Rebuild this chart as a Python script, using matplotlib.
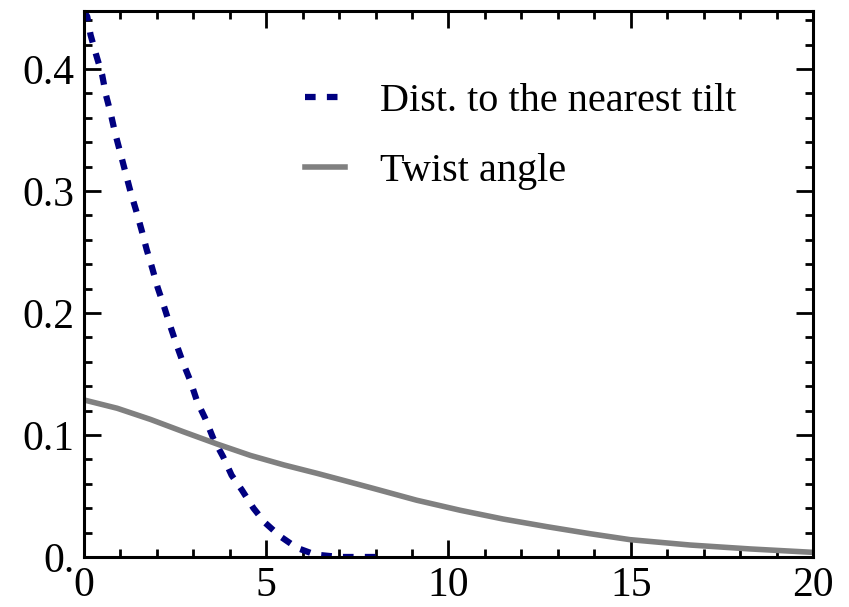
import numpy as np
import matplotlib
matplotlib.use("Agg")
import matplotlib.pyplot as plt
from matplotlib.ticker import MultipleLocator, FixedLocator, FuncFormatter

# datos
x_tilt = [0.0, 0.09, 0.18, 0.34, 0.5, 0.6, 0.73, 0.85, 1.0, 1.14, 1.28, 1.44,
          1.58, 1.72, 1.87, 2.02, 2.2, 2.36, 2.54, 2.72, 2.91, 3.11, 3.32, 3.55,
          3.82, 4.05, 4.33, 4.65, 4.97, 5.38, 5.84, 6.34, 7.0, 7.6, 8.26]
y_tilt = [0.447, 0.443, 0.428, 0.411, 0.395, 0.379, 0.364, 0.348, 0.331, 0.315,
          0.299, 0.283, 0.268, 0.252, 0.237, 0.221, 0.205, 0.190, 0.174, 0.159,
          0.145, 0.127, 0.114, 0.097, 0.082, 0.067, 0.055, 0.040, 0.028, 0.017,
          0.0075, 0.002, 0.0, 0.0, 0.0]

x_twist = [0.0, 0.91, 1.83, 2.74, 3.66, 4.57, 5.49, 6.4, 7.13, 7.94, 9.13,
           10.32, 11.5, 12.69, 13.88, 14.98, 16.63, 18.27, 20.0]
y_twist = [0.1287, 0.1219, 0.1127, 0.1025, 0.0925, 0.0832, 0.0754, 0.0685,
           0.0627, 0.0562, 0.0465, 0.0383, 0.0311, 0.0249, 0.0191, 0.0142,
           0.0098, 0.0066, 0.0038]

etiquetas = ["Dist. to the nearest tilt", "Twist angle"]

plt.rcParams['font.family'] = ['Liberation Serif', 'DejaVu Serif']

fig = plt.figure(figsize=(8.49, 6.07), dpi=100)
ax = fig.add_axes([0.0989, 0.0824, 0.8587, 0.8995])

ax.plot(x_tilt, y_tilt, color='#000080', linewidth=4.5, dashes=(1.7, 1.8),
        dash_capstyle='butt', label=etiquetas[0])
ax.plot(x_twist, y_twist, color='#808080', linewidth=4.0, label=etiquetas[1])

ax.set_xlim(0, 20)
ax.set_ylim(0, 0.4475)

ax.xaxis.set_major_locator(MultipleLocator(5))
ax.xaxis.set_minor_locator(MultipleLocator(1))
ax.yaxis.set_major_locator(FixedLocator([0, 0.1, 0.2, 0.3, 0.4]))
ax.yaxis.set_minor_locator(MultipleLocator(0.02))
ax.yaxis.set_major_formatter(FuncFormatter(lambda v, p: "0." if abs(v) < 1e-9 else f"{v:.1f}"))

ax.tick_params(which='both', direction='in', top=True, right=True, width=2.0,
               labelsize=30, pad=7)
ax.tick_params(which='major', length=12)
ax.tick_params(which='minor', length=6)
for s in ax.spines.values():
    s.set_linewidth(2.2)

ax.legend(loc='upper left', bbox_to_anchor=(0.303, 0.868), frameon=False,
          fontsize=29, handlelength=1.0, handletextpad=0.87, labelspacing=0.8,
          borderpad=0, borderaxespad=0)

fig.savefig("out.png", dpi=100)
